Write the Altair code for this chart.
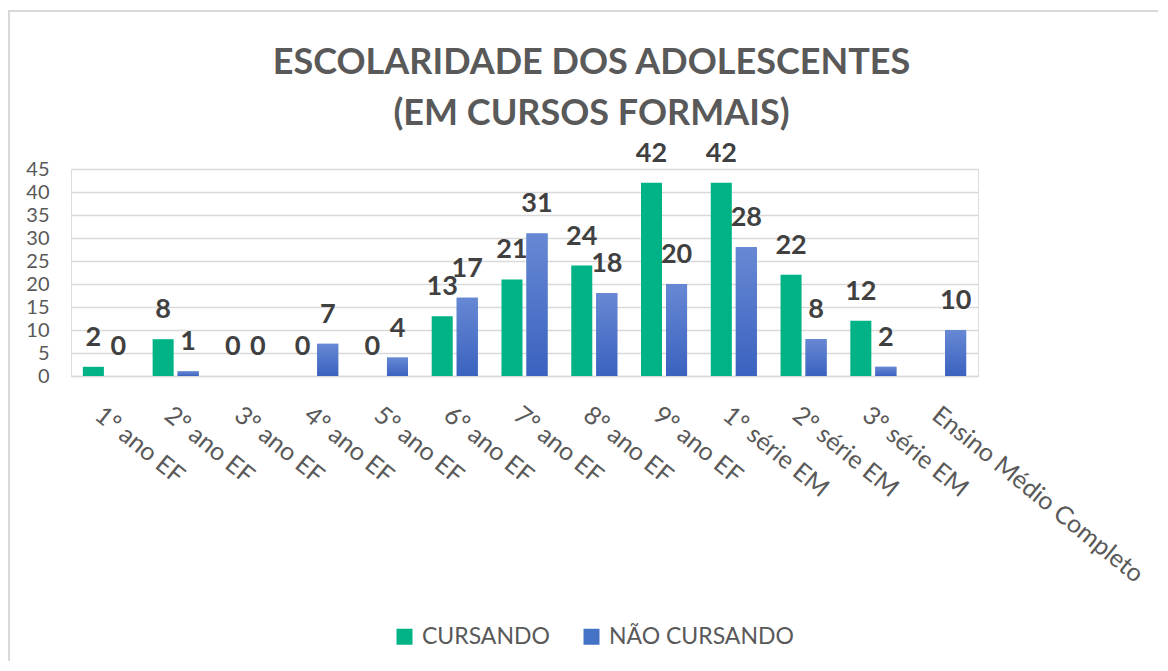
import altair as alt
import pandas as pd

categories = ["1º ano EF", "2º ano EF", "3º ano EF", "4º ano EF", "5º ano EF",
              "6º ano EF", "7º ano EF", "8º ano EF", "9º ano EF", "1º série EM",
              "2º série EM", "3º série EM", "Ensino Médio Completo"]
cursando = [2, 8, 0, 0, 0, 13, 21, 24, 42, 42, 22, 12, None]
nao_cursando = [0, 1, 0, 7, 4, 17, 31, 18, 20, 28, 8, 2, 10]
series = ["CURSANDO", "NÃO CURSANDO"]
y_ticks = [0, 5, 10, 15, 20, 25, 30, 35, 40, 45]

rows = []
for c, a, b in zip(categories, cursando, nao_cursando):
    rows.append({"cat": c, "serie": series[0], "v": a})
    rows.append({"cat": c, "serie": series[1], "v": b})
df = pd.DataFrame(rows)

FONT = "Lato"
GRAY = "#595959"

x = alt.X("cat:N", sort=categories, title=None,
          scale=alt.Scale(paddingInner=0.34, paddingOuter=0.17),
          axis=alt.Axis(labelAngle=39, labelAlign="left", labelBaseline="top",
                        labelPadding=26, labelFontSize=25, labelFont=FONT,
                        labelColor=GRAY, ticks=False, domainColor="#D9D9D9",
                        domainWidth=1.5, labelLimit=0))
xo = alt.XOffset("serie:N", sort=series, scale=alt.Scale(paddingInner=0.16))
y = alt.Y("v:Q", title=None,
          scale=alt.Scale(domain=[0, 45], nice=False),
          axis=alt.Axis(values=y_ticks, labelFontSize=20, labelFont=FONT,
                        labelColor=GRAY, ticks=False, domain=False,
                        labelPadding=22, gridColor="#D9D9D9", gridWidth=1.5))

base = alt.Chart(df)

bars = base.mark_bar().encode(
    x=x, xOffset=xo, y=y,
    color=alt.Color("serie:N", sort=series,
                    scale=alt.Scale(domain=series, range=["#00B386", "#4472C4"]),
                    legend=alt.Legend(title=None, orient="none", legendX=322, legendY=456,
                                      direction="horizontal", symbolType="square",
                                      symbolSize=256, symbolStrokeWidth=0,
                                      labelFontSize=23, labelFont=FONT, labelLimit=0,
                                      labelColor=GRAY, columnPadding=30, labelOffset=6))
)

grad = alt.Gradient(gradient="linear",
                    stops=[alt.GradientStop(color="#6788D4", offset=0),
                           alt.GradientStop(color="#3A62BF", offset=1)],
                    x1=0, x2=0, y1=0, y2=1)
blue = base.transform_filter(alt.datum.serie == series[1]).mark_bar(color=grad).encode(
    x=x, xOffset=xo, y=y
)

labels = base.transform_filter("isValid(datum.v)").mark_text(
    font=FONT, fontSize=27, fontWeight="bold", color="#404040",
    baseline="alphabetic", dy=-21
).encode(x=x, xOffset=xo, y=y, text=alt.Text("v:Q"))

one = pd.DataFrame({"a": [0]})
frame_left = alt.Chart(one).mark_rule(color="#D9D9D9", strokeWidth=2).encode(
    x=alt.value(-62), y=alt.value(-159), y2=alt.value(530))
frame_top = alt.Chart(one).mark_rule(color="#D9D9D9", strokeWidth=2).encode(
    x=alt.value(-63), x2=alt.value(1120), y=alt.value(-158))

chart = alt.layer(frame_left, frame_top, bars, blue, labels).properties(
    width=907, height=207,
    padding={"left": 63, "top": 161, "right": 180, "bottom": 285},
    autosize=alt.AutoSizeParams(type="none"),
    title=alt.TitleParams(
        text=["ESCOLARIDADE DOS ADOLESCENTES", "(EM CURSOS FORMAIS)"],
        font=FONT, fontSize=36, fontWeight="bold", color=GRAY,
        anchor="middle", frame="group", dx=67, lineHeight=51, offset=-124),
).configure_view(stroke=None).configure(background="white")

chart.save("out.html", embed_options={"renderer": "svg", "actions": False})
